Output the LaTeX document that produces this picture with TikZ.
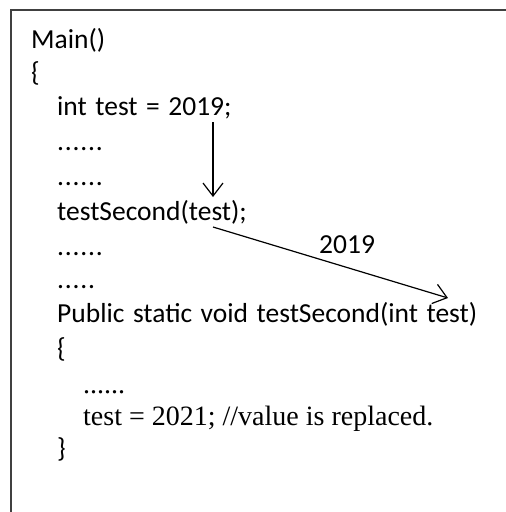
\documentclass[tikz,border=0pt]{standalone}
\usepackage{fontspec}
\setmainfont{Carlito}
\newfontfamily\timesfont{Liberation Serif}
\newfontfamily\dotfont[LetterSpace=3]{Carlito}
\usetikzlibrary{arrows.meta,positioning}
\newcommand{\codefont}{\fontsize{27.5}{33}\selectfont\spaceskip=0.31em plus 0pt\relax}

\begin{document}
\begin{tikzpicture}[x=1pt, y=-1pt, >={Straight Barb[length=13pt,width=20pt]},
  code/.style={anchor=base west, inner sep=0pt, font=\codefont},
  dotcode/.style={code, font=\dotfont\codefont},
  serifcode/.style={code, font=\timesfont\fontsize{28}{33}\selectfont}]
  \useasboundingbox (0,0) rectangle (506,512);
  % frame
  \draw[line width=2pt, black!75] (506,10) -- (11,10) -- (11,512);
  % caller
  \node[code] (main) at (31,48) {Main()};
  \node[code] (mainopen) at (31,81) {\{};
  \node[code] (init) at (57,115) {int test = 2019;};
  \node[dotcode] (dotsa) at (57,150) {......};
  \node[dotcode] (dotsb) at (57,185) {......};
  \node[code] (call) at (57,220) {testSecond(test);};
  \node[dotcode] (dotsc) at (57,255) {......};
  \node[dotcode] (dotsd) at (57,288) {.....};
  % callee
  \node[code] (sig) at (57,322) {Public static void testSecond(int test)};
  \node[code] (subopen) at (57,357) {\{};
  \node[serifcode] (dotse) at (83,393) {......};
  \node[serifcode] (assign) at (83,425) {test = 2021; //value is replaced.};
  \node[code] (subclose) at (57,457) {\}};
  % value passed
  \coordinate (valtop) at (213,122);
  \coordinate (valbot) at (213,197);
  \coordinate (argout) at (213,227);
  \coordinate (argin) at (448,298);
  \draw[->, line width=1.2pt] (valtop) -- (valbot);
  \draw[->, line width=1.2pt] (argout) -- (argin);
  \node[code] (passed) at (319,253) {2019};
\end{tikzpicture}
\end{document}
